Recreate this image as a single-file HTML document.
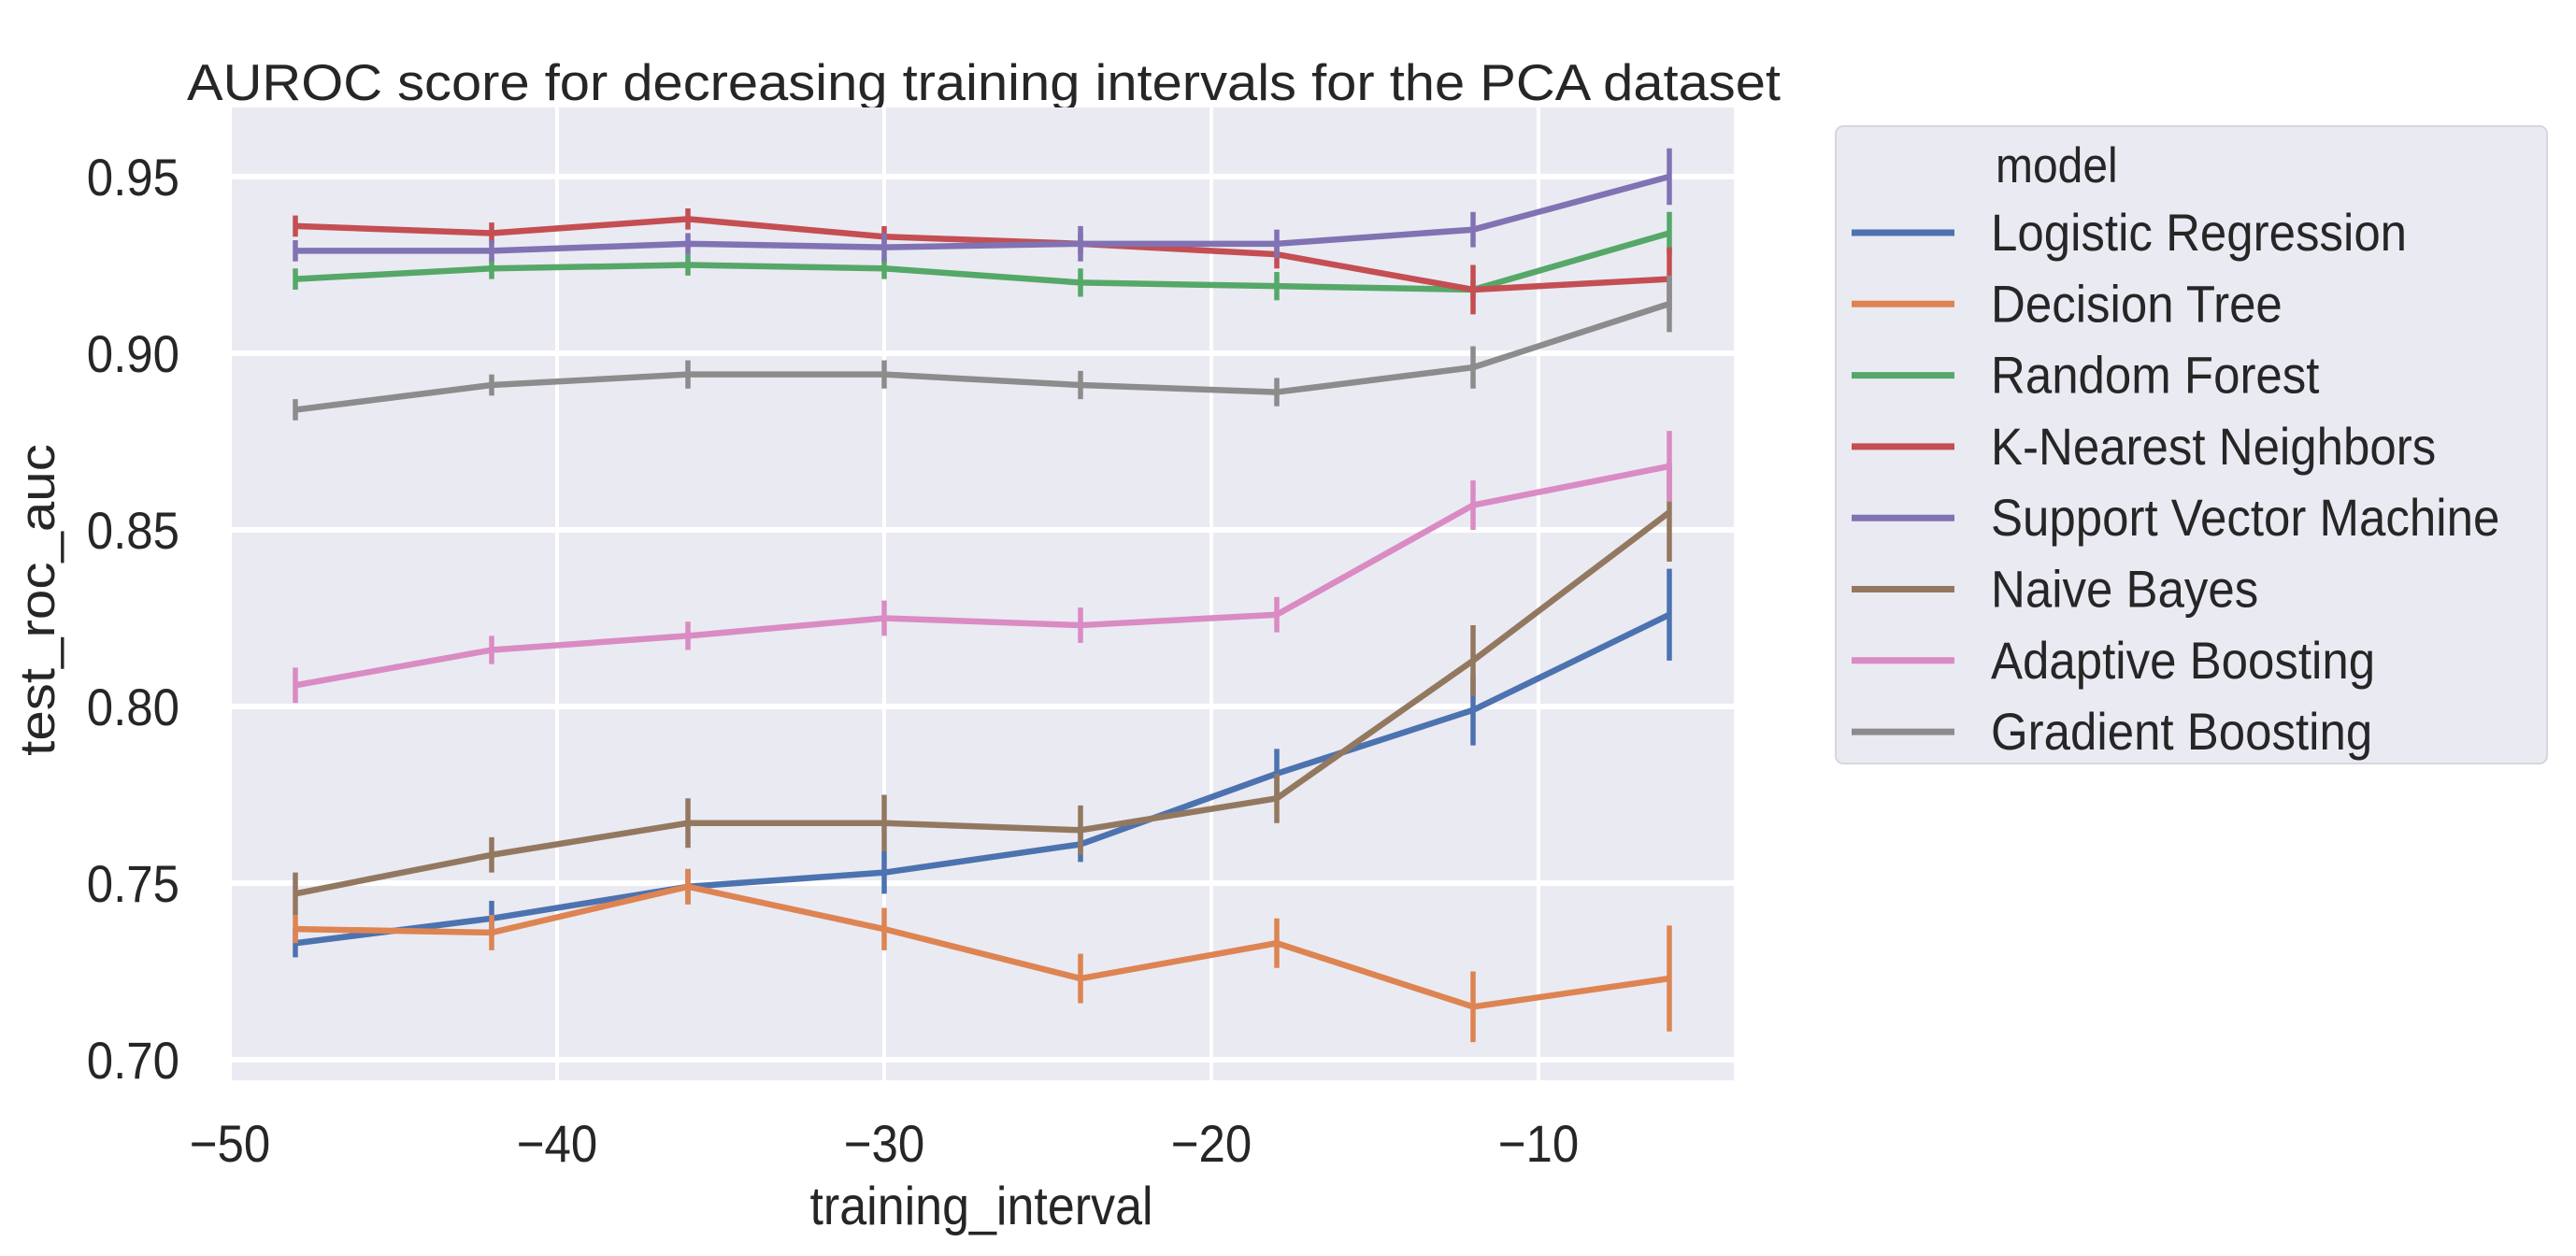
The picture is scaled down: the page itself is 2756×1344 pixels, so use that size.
<!DOCTYPE html>
<html><head><meta charset="utf-8">
<style>
html,body{margin:0;padding:0;background:#fff;}
svg{display:block;}
text{font-family:"Liberation Sans",Arial,sans-serif;fill:#262626;}
</style></head>
<body>
<svg id="chart" width="2756" height="1344" viewBox="0 0 2756 1344" xmlns="http://www.w3.org/2000/svg">
<text transform="translate(200,107) scale(1,1.1)" font-size="50" textLength="1705" lengthAdjust="spacingAndGlyphs">AUROC score for decreasing training intervals for the PCA dataset</text>
<rect x="248" y="115" width="1607" height="1041" fill="#eaeaf2"/>
<g id="grid"></g>
<g id="series"></g>
<g id="ticks"></g>
<text transform="translate(1050,1310) scale(1,1.1)" font-size="52" text-anchor="middle">training_interval</text>
<text transform="translate(58,642) rotate(-90) scale(1.1,1)" font-size="53" text-anchor="middle">test_roc_auc</text>
<g>
<rect x="1964" y="135" width="761" height="682" rx="8" fill="#eaeaf2" stroke="#d6d6de" stroke-width="2"/>
<text transform="translate(2135,195) scale(1,1.1)" font-size="48">model</text>
<g id="legend"></g>
</g>
</svg>
<script>
const xValues = [-48, -42, -36, -30, -24, -18, -12, -6];
const seriesNames = ["Logistic Regression","Decision Tree","Random Forest","K-Nearest Neighbors","Support Vector Machine","Naive Bayes","Adaptive Boosting","Gradient Boosting"];
const seriesColors = ["#4c72b0","#dd8452","#55a868","#c44e52","#8172b3","#937860","#da8bc3","#8c8c8c"];
const lrValues  = [0.733,0.740,0.749,0.753,0.761,0.781,0.799,0.826];
const dtValues  = [0.737,0.736,0.749,0.737,0.723,0.733,0.715,0.723];
const rfValues  = [0.921,0.924,0.925,0.924,0.920,0.919,0.918,0.934];
const knnValues = [0.936,0.934,0.938,0.933,0.931,0.928,0.918,0.921];
const svmValues = [0.929,0.929,0.931,0.930,0.931,0.931,0.935,0.950];
const nbValues  = [0.747,0.758,0.767,0.767,0.765,0.774,0.813,0.855];
const abValues  = [0.806,0.816,0.820,0.825,0.823,0.826,0.857,0.868];
const gbValues  = [0.884,0.891,0.894,0.894,0.891,0.889,0.896,0.914];
const lrErr  = [0.004,0.005,0.005,0.006,0.005,0.007,0.010,0.013];
const dtErr  = [0.004,0.005,0.005,0.006,0.007,0.007,0.010,0.015];
const rfErr  = [0.003,0.003,0.003,0.003,0.004,0.004,0.003,0.006];
const knnErr = [0.003,0.003,0.003,0.003,0.003,0.004,0.007,0.009];
const svmErr = [0.003,0.003,0.003,0.004,0.005,0.004,0.005,0.008];
const nbErr  = [0.006,0.005,0.007,0.008,0.007,0.007,0.010,0.014];
const abErr  = [0.005,0.004,0.004,0.005,0.005,0.005,0.007,0.010];
const gbErr  = [0.003,0.003,0.004,0.004,0.004,0.004,0.006,0.008];
const allValues = [lrValues,dtValues,rfValues,knnValues,svmValues,nbValues,abValues,gbValues];
const allErr = [lrErr,dtErr,rfErr,knnErr,svmErr,nbErr,abErr,gbErr];
const xTicks = [-50,-40,-30,-20,-10];
const xTickLabels = ["\u221250","\u221240","\u221230","\u221220","\u221210"];
const yTicks = [0.70,0.75,0.80,0.85,0.90,0.95];
const yTickLabels = ["0.70","0.75","0.80","0.85","0.90","0.95"];

const NS = "http://www.w3.org/2000/svg";
function xs(v){ return 246 + (v + 50) * 35.0; }
function ys(v){ return 1134 - (v - 0.70) * 3780; }
function mk(tag, attrs, parent){
  const e = document.createElementNS(NS, tag);
  for (const k in attrs) e.setAttribute(k, attrs[k]);
  parent.appendChild(e); return e;
}
const grid = document.getElementById('grid');
const ticks = document.getElementById('ticks');
xTicks.forEach((t,i)=>{
  const l = mk('line',{x1:xs(t),x2:xs(t),y1:115,y2:1156,stroke:'#fff','stroke-width':4},grid);
  
  
  const tx = mk('text',{transform:'translate('+xs(t)+',1243) scale(1,1.1)','font-size':51,'text-anchor':'middle'},ticks);
  tx.textContent = xTickLabels[i];
  
  
});
yTicks.forEach((t,i)=>{
  const l = mk('line',{x1:248,x2:1855,y1:ys(t),y2:ys(t),stroke:'#fff','stroke-width':6},grid);
  
  
  const tx = mk('text',{transform:'translate(192,'+(ys(t)+20)+') scale(1,1.1)','font-size':51,'text-anchor':'end'},ticks);
  tx.textContent = yTickLabels[i];
  
  
});
const sg = document.getElementById('series');
allValues.forEach((vals,si)=>{
  const g = mk('g',{},sg);
  
  
  const pts = vals.map((v,i)=>xs(xValues[i])+','+ys(v)).join(' ');
  const pl = mk('polyline',{points:pts,fill:'none',stroke:seriesColors[si],'stroke-width':6.5,'stroke-linejoin':'round'},g);
  
  
  vals.forEach((v,i)=>{
    const e = allErr[si][i];
    const eb = mk('line',{x1:xs(xValues[i]),x2:xs(xValues[i]),y1:ys(v-e),y2:ys(v+e),stroke:seriesColors[si],'stroke-width':5.5},g);
    
    
  });
});
const lg = document.getElementById('legend');
seriesNames.forEach((n,i)=>{
  const y = 249 + i*76.3;
  const ln = mk('line',{x1:1981,x2:2091,y1:y,y2:y,stroke:seriesColors[i],'stroke-width':7},lg);
  
  
  const t = mk('text',{transform:'translate(2130,'+(y+19)+') scale(1,1.1)','font-size':51},lg);
  t.textContent = n;
  
  
});
</script>
</body></html>
